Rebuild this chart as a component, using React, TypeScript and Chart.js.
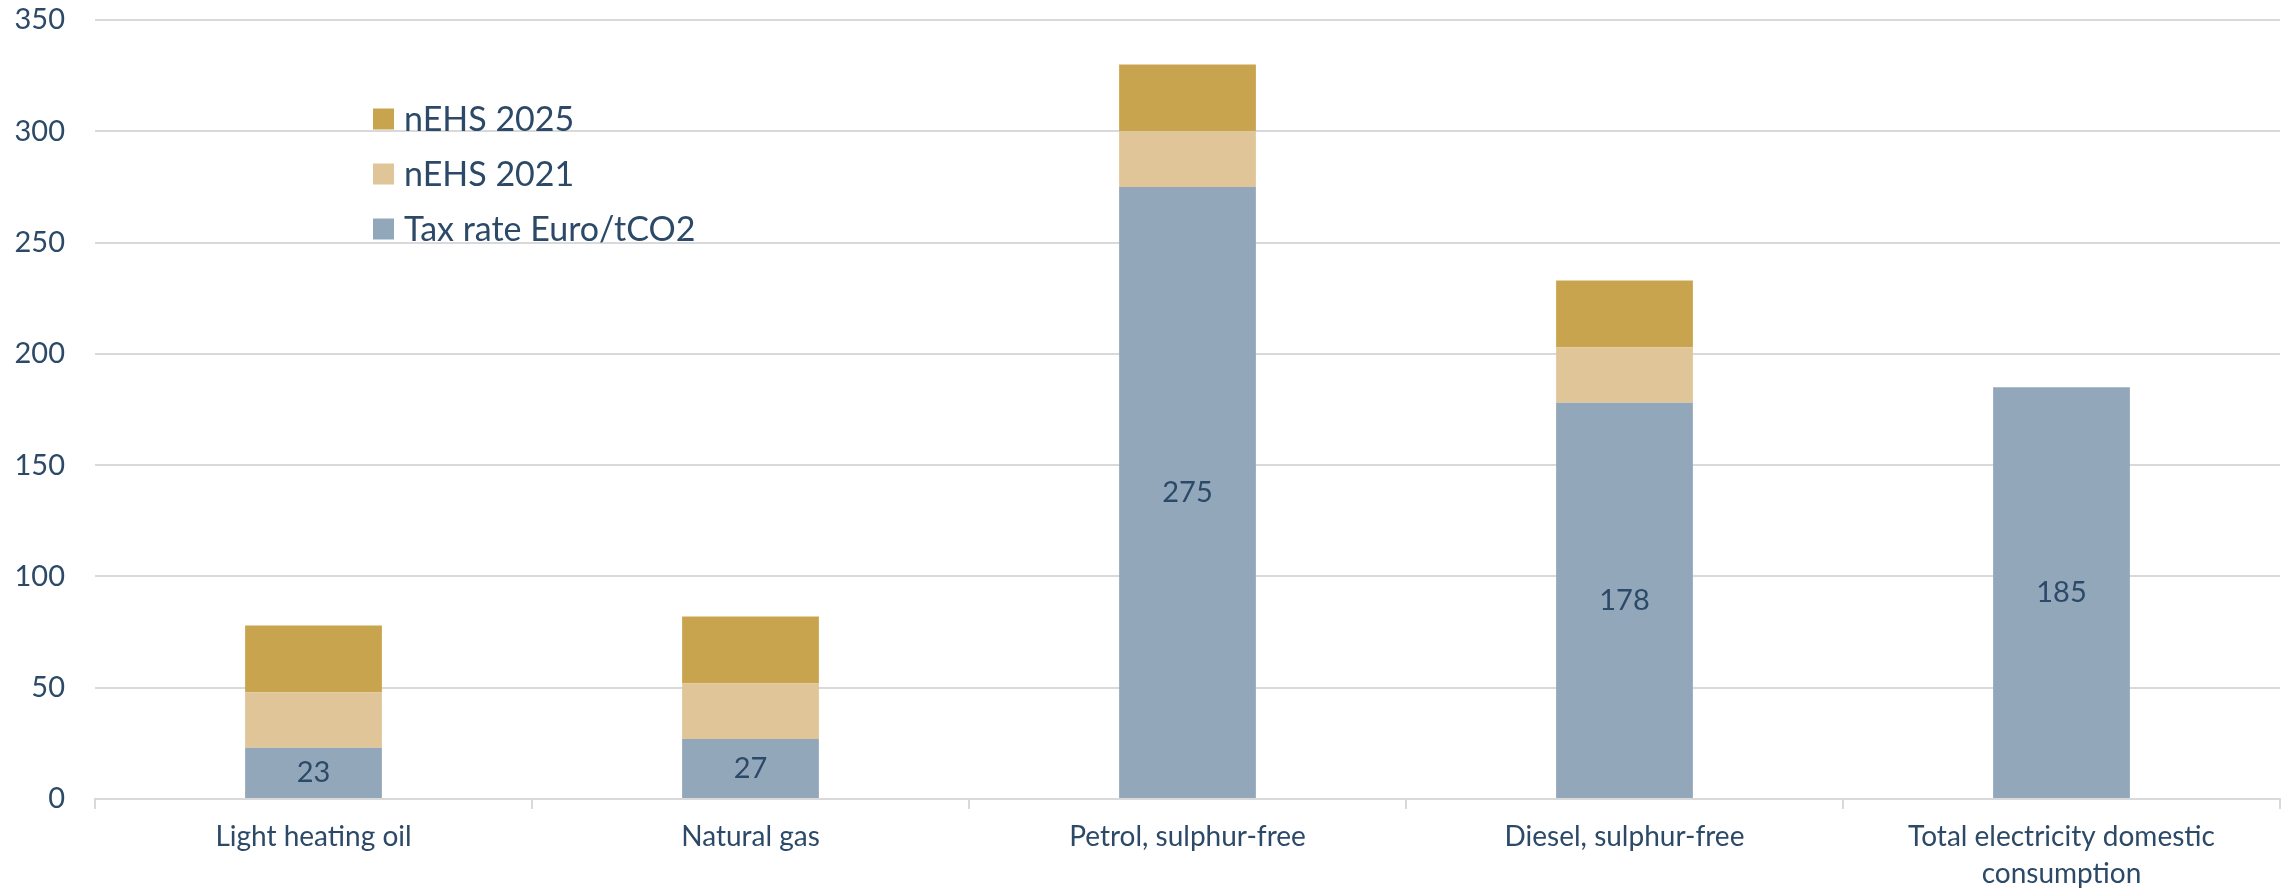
import React, { useEffect, useRef } from "react";
import { Chart, registerables } from "chart.js";

Chart.register(...registerables);

const categories: (string | string[])[] = [
  "Light heating oil",
  "Natural gas",
  "Petrol, sulphur-free",
  "Diesel, sulphur-free",
  ["Total electricity domestic", "consumption"],
];
const taxRate = [23, 27, 275, 178, 185];
const nehs2021 = [25, 25, 25, 25, 0];
const nehs2025 = [30, 30, 30, 30, 0];
const yTicks = [0, 50, 100, 150, 200, 250, 300, 350];

const TEXT = "#2C4A68";
const GRID = "#D9D9D9";
const FONT = "Lato, 'Open Sans', sans-serif";
const AXIS_SIZE = 28;
const LEGEND_SIZE = 34;

// Values written in the middle of the tax-rate segments
const valueLabels = {
  id: "valueLabels",
  afterDatasetsDraw(chart: any) {
    const ctx = chart.ctx;
    const meta = chart.getDatasetMeta(0);
    const data = chart.data.datasets[0].data as number[];
    ctx.save();
    ctx.font = `29px ${FONT}`;
    ctx.fillStyle = TEXT;
    ctx.textAlign = "center";
    ctx.textBaseline = "middle";
    meta.data.forEach((bar: any, i: number) => {
      const { x, y, base } = bar.getProps(["x", "y", "base"], true);
      ctx.fillText(String(data[i]), x, (y + base) / 2);
    });
    ctx.restore();
  },
};

// Legend drawn inside the plot, last series on top
const insideLegend = {
  id: "insideLegend",
  afterDraw(chart: any) {
    const ctx = chart.ctx;
    const ds = chart.data.datasets.slice().reverse();
    const x0 = 373;
    const y0 = 119;
    const step = 55;
    const box = 21;
    ctx.save();
    ctx.font = `${LEGEND_SIZE}px ${FONT}`;
    ctx.textBaseline = "middle";
    ctx.textAlign = "left";
    ds.forEach((d: any, i: number) => {
      const cy = y0 + i * step;
      ctx.fillStyle = d.backgroundColor;
      ctx.fillRect(x0, cy - box / 2, box, box);
      ctx.fillStyle = TEXT;
      ctx.fillText(d.label, x0 + box + 10, cy + 1);
    });
    ctx.restore();
  },
};

export default function App() {
  const ref = useRef<HTMLCanvasElement | null>(null);

  useEffect(() => {
    if (!ref.current) return;
    const chart = new Chart(ref.current, {
      type: "bar",
      data: {
        labels: categories,
        datasets: [
          { label: "Tax rate Euro/tCO2", data: taxRate, backgroundColor: "#93A7BB" },
          { label: "nEHS 2021", data: nehs2021, backgroundColor: "#E0C598" },
          { label: "nEHS 2025", data: nehs2025, backgroundColor: "#C9A44E" },
        ],
      },
      options: {
        animation: false,
        responsive: false,
        maintainAspectRatio: false,
        layout: { padding: { left: 0, right: 7, top: 20, bottom: 0 } },
        datasets: {
          bar: { categoryPercentage: 1, barPercentage: 0.313, borderWidth: 0 },
        },
        plugins: {
          legend: { display: false },
          tooltip: { enabled: false },
        },
        scales: {
          x: {
            stacked: true,
            offset: true,
            grid: {
              offset: true,
              drawOnChartArea: false,
              drawTicks: true,
              tickLength: 10,
              color: GRID,
              lineWidth: 2,
            },
            border: { display: true, color: GRID, width: 2 },
            ticks: {
              color: TEXT,
              font: { family: FONT, size: AXIS_SIZE, lineHeight: 1.33 },
              padding: 9,
              maxRotation: 0,
              autoSkip: false,
            },
            afterFit(scale: any) {
              scale.height = 97;
              scale.paddingLeft = 0;
              scale.paddingRight = 0;
            },
          },
          y: {
            stacked: true,
            min: 0,
            max: 350,
            afterBuildTicks(scale: any) {
              scale.ticks = yTicks.map((v) => ({ value: v }));
            },
            grid: { color: GRID, lineWidth: 2, drawTicks: false },
            border: { display: false },
            ticks: {
              color: TEXT,
              font: { family: FONT, size: 29 },
              padding: 30,
            },
            afterFit(scale: any) {
              scale.width = 95;
              scale.paddingTop = 0;
              scale.paddingBottom = 0;
            },
          },
        },
      },
      plugins: [valueLabels, insideLegend],
    });
    return () => chart.destroy();
  }, []);

  return (
    <div style={{ position: "absolute", left: 0, top: 0, width: 2287, height: 896, background: "#fff" }}>
      <canvas ref={ref} width={2287} height={896} style={{ width: 2287, height: 896 }} />
    </div>
  );
}
